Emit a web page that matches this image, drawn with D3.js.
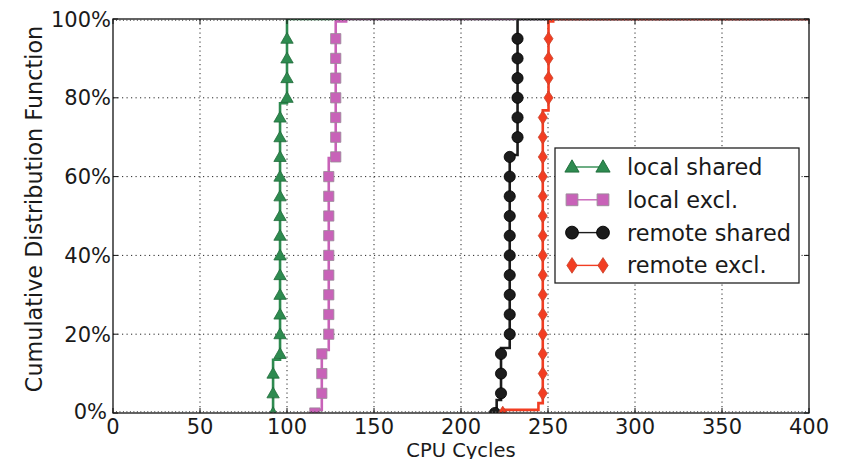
<!DOCTYPE html>
<html>
<head>
<meta charset="utf-8">
<script src="https://cdn.jsdelivr.net/npm/d3@7/dist/d3.min.js"></script>
<style>
  body { margin: 0; background: #fff; }
  svg { display: block; font-family: "DejaVu Sans", sans-serif; }
</style>
</head>
<body>
<svg id="chart" width="847" height="459"></svg>
<script>
// CDF step data: x where the curve jumps, and cumulative level reached after the jump
const localSharedX = [92, 96, 100];
const localSharedP = [0.135, 0.786, 1.0];
const localExclX = [116, 120, 124, 128, 134];
const localExclP = [0.008, 0.16, 0.647, 0.994, 1.0];
const remoteSharedX = [219.5, 220.5, 223, 228, 232.5];
const remoteSharedP = [0.005, 0.033, 0.165, 0.655, 1.0];
const remoteExclX = [224, 244.5, 247, 250.3, 253];
const remoteExclP = [0.008, 0.025, 0.768, 0.994, 1.0];

const markerLevels = [0, 0.05, 0.10, 0.15, 0.20, 0.25, 0.30, 0.35, 0.40, 0.45,
                      0.50, 0.55, 0.60, 0.65, 0.70, 0.75, 0.80, 0.85, 0.90, 0.95];

const xTicks = [0, 50, 100, 150, 200, 250, 300, 350, 400];
const yTicks = [0, 0.2, 0.4, 0.6, 0.8, 1.0];

const series = [
  { name: "local shared", xs: localSharedX, ps: localSharedP, color: "#2e8b50", edge: "#1f6b3a", shape: "triangle" },
  { name: "local excl.", xs: localExclX, ps: localExclP, color: "#c862b8", edge: "#9a8a98", shape: "square" },
  { name: "remote shared", xs: remoteSharedX, ps: remoteSharedP, color: "#1c1c1c", edge: "#000", shape: "circle" },
  { name: "remote excl.", xs: remoteExclX, ps: remoteExclP, color: "#f23d22", edge: "#c8442c", shape: "diamond" }
];

const svg = d3.select("#chart");
const pLeft = 113, pRight = 809, pTop = 19, pBottom = 413;

const x = d3.scaleLinear().domain([0, 400]).range([pLeft, pRight]);
const y = d3.scaleLinear().domain([0, 1]).range([pBottom, pTop]);

svg.append("rect").attr("width", 847).attr("height", 459).attr("fill", "#fff");

svg.append("defs").append("clipPath").attr("id", "plotclip")
  .append("rect").attr("x", pLeft).attr("y", pTop).attr("width", pRight - pLeft).attr("height", pBottom - pTop);

// grid
const grid = svg.append("g").attr("stroke", "#000").attr("stroke-width", 1)
  .attr("stroke-dasharray", "1.2,3.3").attr("opacity", 0.85);
grid.selectAll("line.gx").data(xTicks.slice(1, -1)).enter().append("line")
  .attr("x1", d => x(d)).attr("x2", d => x(d)).attr("y1", pTop).attr("y2", pBottom);
grid.selectAll("line.gy").data(yTicks.slice(1, -1)).enter().append("line")
  .attr("x1", pLeft).attr("x2", pRight).attr("y1", d => y(d)).attr("y2", d => y(d));

// build step vertices for a series
function stepPoints(s) {
  const pts = [[s.xs[0], 0]];
  s.xs.forEach((xv, i) => {
    if (i > 0) pts.push([xv, s.ps[i - 1]]);
    pts.push([xv, s.ps[i]]);
  });
  pts.push([400, s.ps[s.ps.length - 1]]);
  return pts;
}

function markerX(s, level) {
  const i = s.ps.findIndex(p => p >= level - 1e-9);
  return s.xs[i < 0 ? s.xs.length - 1 : i];
}

const symbolFor = {
  triangle: d3.symbol().type(d3.symbolTriangle).size(66),
  square: d3.symbol().type(d3.symbolSquare).size(105),
  circle: d3.symbol().type(d3.symbolCircle).size(98)
};

function drawMarker(g, shape, cx, cy, scale) {
  const k = scale || 1;
  if (shape === "diamond") {
    const w = 4.5 * k, h = 6.8 * k;
    return g.append("path").attr("d", `M${cx},${cy - h}L${cx + w},${cy}L${cx},${cy + h}L${cx - w},${cy}Z`);
  }
  return g.append("path").attr("d", symbolFor[shape]())
    .attr("transform", `translate(${cx},${cy + (shape === "triangle" ? 1 : 0)}) scale(${k})`);
}

const line = d3.line().x(d => x(d[0])).y(d => y(d[1]));
const plot = svg.append("g").attr("clip-path", "url(#plotclip)");

series.forEach(s => {
  const g = plot.append("g");
  g.append("path").datum(stepPoints(s)).attr("d", line)
    .attr("fill", "none").attr("stroke", s.color).attr("stroke-width", 2.6)
    .attr("stroke-linejoin", "miter");
  markerLevels.forEach(l => {
    drawMarker(g, s.shape, x(markerX(s, l)), y(l))
      .attr("fill", s.color).attr("stroke", s.edge).attr("stroke-width", 0.8);
  });
});

// frame, ticks
const axes = svg.append("g").attr("stroke", "#111");
axes.append("rect").attr("x", pLeft).attr("y", pTop).attr("width", pRight - pLeft).attr("height", pBottom - pTop)
  .attr("fill", "none").attr("stroke-width", 1.3);

const minor = d3.range(0, 401, 2);
axes.selectAll("line.mb").data(minor).enter().append("line")
  .attr("x1", d => x(d)).attr("x2", d => x(d)).attr("y1", pBottom).attr("y2", pBottom - 2)
  .attr("stroke-width", 0.9).attr("stroke", "#555");
axes.selectAll("line.mt").data(minor).enter().append("line")
  .attr("x1", d => x(d)).attr("x2", d => x(d)).attr("y1", pTop).attr("y2", pTop + 2)
  .attr("stroke-width", 0.9).attr("stroke", "#555");
axes.selectAll("line.xb").data(xTicks).enter().append("line")
  .attr("x1", d => x(d)).attr("x2", d => x(d)).attr("y1", pBottom).attr("y2", pBottom - 5).attr("stroke-width", 1);
axes.selectAll("line.xt").data(xTicks).enter().append("line")
  .attr("x1", d => x(d)).attr("x2", d => x(d)).attr("y1", pTop).attr("y2", pTop + 5).attr("stroke-width", 1);
axes.selectAll("line.yl").data(yTicks).enter().append("line")
  .attr("x1", pLeft).attr("x2", pLeft + 5).attr("y1", d => y(d)).attr("y2", d => y(d)).attr("stroke-width", 1);
axes.selectAll("line.yr").data(yTicks).enter().append("line")
  .attr("x1", pRight).attr("x2", pRight - 5).attr("y1", d => y(d)).attr("y2", d => y(d)).attr("stroke-width", 1);

// tick labels
svg.append("g").selectAll("text").data(xTicks).enter().append("text")
  .attr("x", d => x(d)).attr("y", 434).attr("text-anchor", "middle")
  .attr("font-size", 21).attr("fill", "#1a1a1a").text(d => d);
svg.append("g").selectAll("text").data(yTicks).enter().append("text")
  .attr("x", d => d === 0 ? 107 : 111).attr("y", d => y(d) + (d === 0 ? 5.5 : 7.6)).attr("text-anchor", "end")
  .attr("font-size", 21).attr("fill", "#1a1a1a").text(d3.format(".0%"));

svg.append("text").attr("x", x(200)).attr("y", 457).attr("text-anchor", "middle")
  .attr("font-size", 19.5).attr("fill", "#1a1a1a").text("CPU Cycles");
svg.append("text").attr("transform", "translate(42,209) rotate(-90)").attr("text-anchor", "middle")
  .attr("font-size", 22.3).attr("fill", "#1a1a1a").text("Cumulative Distribution Function");

// legend
const lg = svg.append("g");
lg.append("rect").attr("x", 555).attr("y", 148).attr("width", 244).attr("height", 135)
  .attr("fill", "#fff").attr("stroke", "#222").attr("stroke-width", 1.3);
series.forEach((s, i) => {
  const cy = 167 + i * 32.8;
  lg.append("line").attr("x1", 572).attr("x2", 603).attr("y1", cy).attr("y2", cy)
    .attr("stroke", s.color).attr("stroke-width", 1.4);
  [572, 603].forEach(cx => {
    drawMarker(lg, s.shape, cx, cy, 1.15).attr("fill", s.color).attr("stroke", s.edge).attr("stroke-width", 0.8);
  });
  lg.append("text").attr("x", 627).attr("y", cy + 8).attr("font-size", 22.4)
    .attr("fill", "#1a1a1a").text(s.name);
});
</script>
</body>
</html>
